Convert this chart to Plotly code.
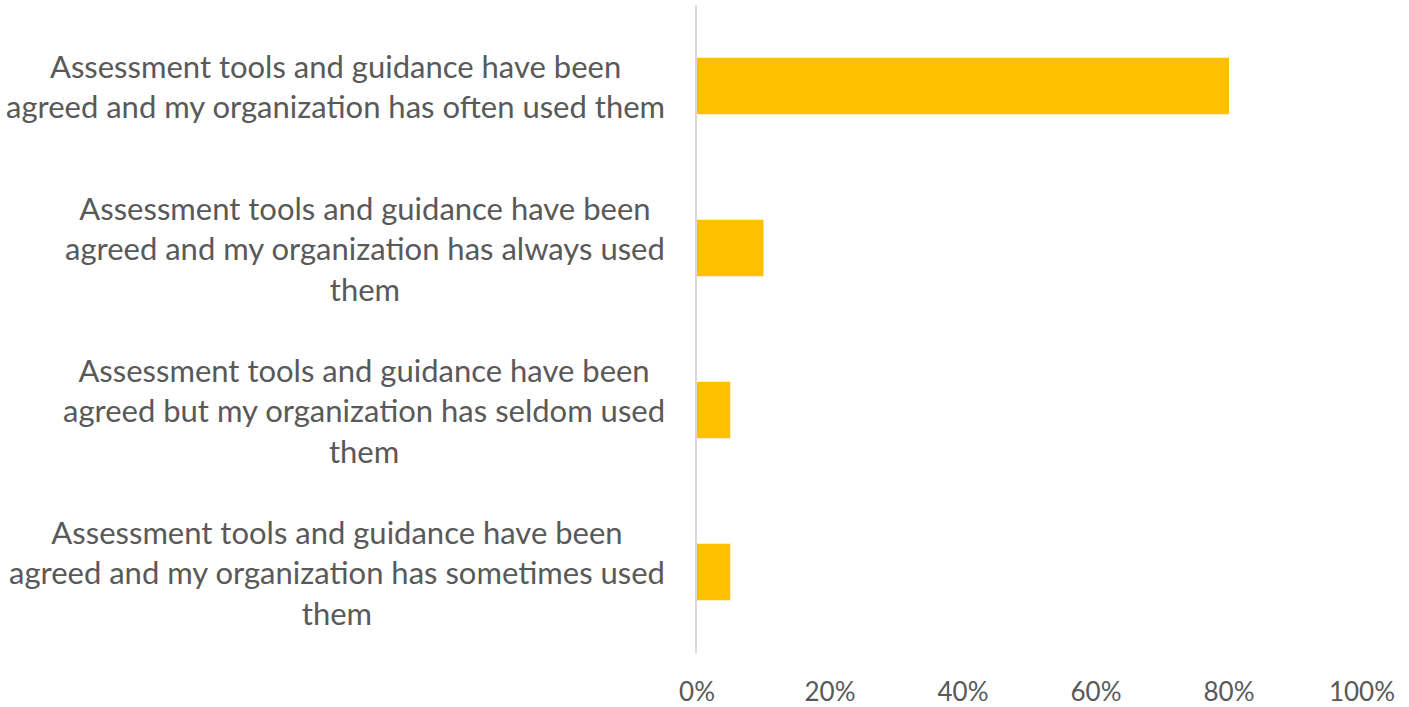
import plotly.graph_objects as go

categories = [
    "Assessment tools and guidance have been<br>agreed and my organization has often used them",
    "Assessment tools and guidance have been<br>agreed and my organization has always used<br>them",
    "Assessment tools and guidance have been<br>agreed but my organization has seldom used<br>them",
    "Assessment tools and guidance have been<br>agreed and my organization has sometimes used<br>them",
]
values = [0.80, 0.10, 0.05, 0.05]
tick_vals = [0, 0.2, 0.4, 0.6, 0.8, 1.0]
tick_text = ["0%", "20%", "40%", "60%", "80%", "100%"]

W, H = 1409, 707
L, R, T, B = 697, 47, 5, 54
FONT = "Lato, Open Sans, sans-serif"
GREY = "#595959"

fig = go.Figure(go.Bar(
    x=values, y=list(range(len(categories))), orientation="h",
    marker=dict(color="#FFC000", line=dict(width=0)),
    hoverinfo="skip",
))

for i, c in enumerate(categories):
    fig.add_annotation(
        x=-(697 - 667) / (W - L - R), xref="paper", y=i, yref="y",
        text=c, showarrow=False, xanchor="right", yanchor="middle",
        align="center", font=dict(family=FONT, size=31, color=GREY),
    )

fig.update_layout(
    width=W, height=H,
    margin=dict(l=L, r=R, t=T, b=B, pad=0, autoexpand=False),
    paper_bgcolor="white", plot_bgcolor="white",
    bargap=0.65, showlegend=False,
    xaxis=dict(range=[0, 1], tickvals=tick_vals, ticktext=tick_text,
               showgrid=False, zeroline=False, showline=False, automargin=False,
               ticks="outside", ticklen=16, tickcolor="rgba(0,0,0,0)",
               tickfont=dict(family=FONT, size=26, color=GREY), fixedrange=True),
    yaxis=dict(range=[3.5, -0.5], showticklabels=False, showgrid=False, automargin=False,
               zeroline=False, showline=True, linecolor="#D9D9D9", linewidth=2,
               ticks="", fixedrange=True),
)

fig.write_html("out.html", config={"displayModeBar": False},
               post_script="document.body.style.margin='0';document.body.style.overflow='hidden';")
